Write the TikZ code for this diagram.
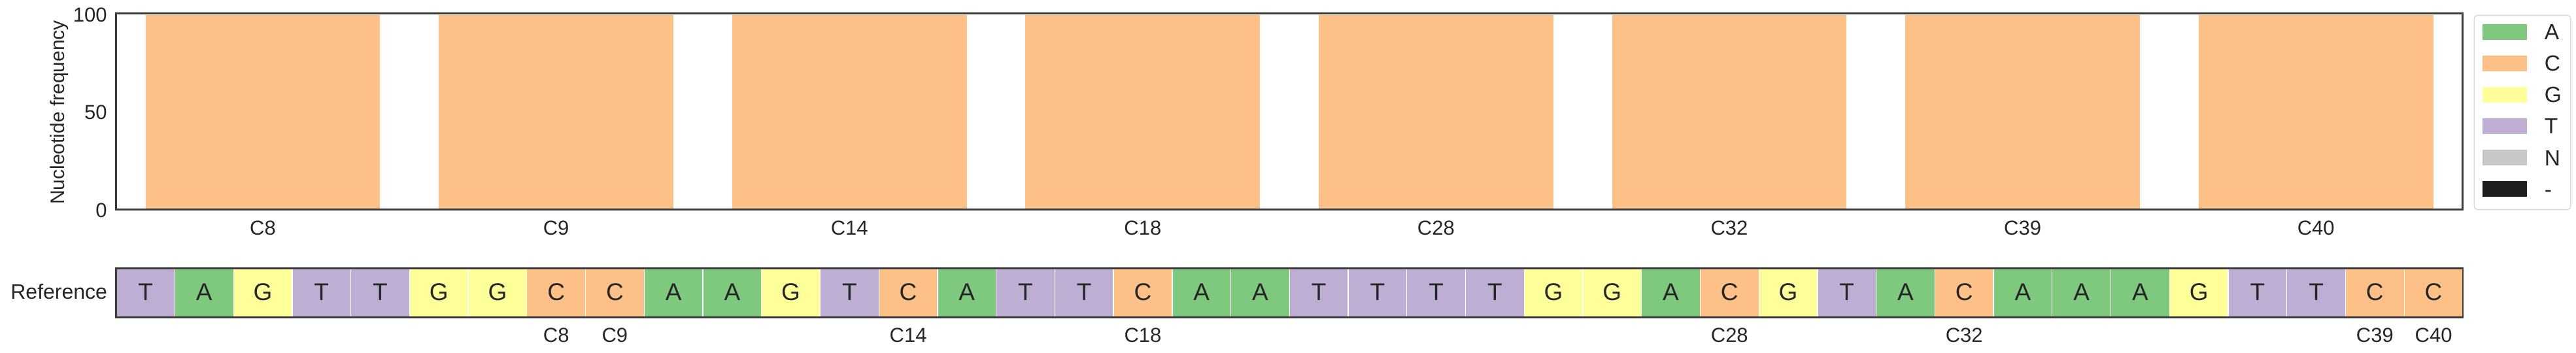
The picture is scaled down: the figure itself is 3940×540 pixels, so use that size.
\documentclass[tikz,border=0pt]{standalone}
\usepackage{fontspec}
\setmainfont{Liberation Sans}
\definecolor{nucA}{HTML}{7FC97F}
\definecolor{nucC}{HTML}{FDC086}
\definecolor{nucG}{HTML}{FFFF99}
\definecolor{nucT}{HTML}{BEAED4}
\definecolor{nucN}{HTML}{C7C7C7}
\definecolor{nucGap}{HTML}{1E1E1E}
\definecolor{ink}{HTML}{262626}
\definecolor{framecol}{HTML}{3A3A3A}
\definecolor{legedge}{HTML}{D9D9D9}
\begin{document}
\begin{tikzpicture}[x=1pt,y=-1pt,
  every node/.style={inner sep=0pt,outer sep=0pt,text=ink},
  ticklab/.style={font=\fontsize{31}{37}\selectfont},
  ylab/.style={font=\fontsize{30}{36}\selectfont},
  reflab/.style={font=\fontsize{32}{38}\selectfont},
  cellletter/.style={font=\fontsize{37}{44}\selectfont},
  leglab/.style={font=\fontsize{33.5}{40}\selectfont},
  axframe/.style={draw=framecol,line width=2.5pt},
  sepline/.style={draw=white,line width=1.3pt},
  legbox/.style={draw=legedge,line width=1.5pt,fill=white,rounded corners=5pt}]
\useasboundingbox (0,0) rectangle (3940,540);
\fill[white] (0,0) rectangle (3940,540);
% ---- bar chart ----
\foreach \lab [count=\i from 0] in {C8,C9,C14,C18,C28,C32,C39,C40} {
  \pgfmathsetmacro\cx{177.7+448.6*(\i+0.5)}
  \fill[nucC] (\cx-179.4,22.7) rectangle (\cx+179.4,320.7);
  \node[ticklab,anchor=base] (bar\i) at (\cx,359.5) {\lab};
}
\draw[axframe] (177.7,20.7) rectangle (3766.5,320.7);
\node[ticklab,anchor=base east] (y100) at (163.5,33.8) {100};
\node[ticklab,anchor=base east] (y50) at (163.5,182.8) {50};
\node[ticklab,anchor=base east] (y0) at (163.5,332.5) {0};
\node[ylab,anchor=base,rotate=90] (ylabel) at (98,172) {Nucleotide frequency};
% ---- reference row ----
\foreach \l [count=\i] in {T,A,G,T,T,G,G,C,C,A,A,G,T,C,A,T,T,C,A,A,T,T,T,T,G,G,A,C,G,T,A,C,A,A,A,G,T,T,C,C} {
  \pgfmathsetmacro\xa{177.7+89.73*(\i-1)}
  \pgfmathsetmacro\xb{\xa+89.73}
  \fill[nuc\l] (\xa,410.7) rectangle (\xb,485.7);
  \node[cellletter,anchor=base] (r\i) at ({(\xa+\xb)/2},459.3) {\l};
}
\foreach \i in {1,...,39} {
  \pgfmathsetmacro\xs{177.7+89.73*\i}
  \draw[sepline] (\xs,412) -- (\xs,484.4);
}
\draw[axframe] (177.7,410.7) rectangle (3767,485.7);
\node[reflab,anchor=base east] (reflabel) at (164,457.7) {Reference};
\foreach \p/\lab in {8/C8,9/C9,14/C14,18/C18,28/C28,32/C32,39/C39,40/C40} {
  \pgfmathsetmacro\cx{177.7+89.73*(\p-0.5)}
  \node[ticklab,anchor=base] (pos\p) at (\cx,523.3) {\lab};
}
% ---- legend ----
\draw[legbox] (3784.3,23.3) rectangle (3931.7,320.7);
\foreach \c/\lab [count=\k from 0] in {nucA/A,nucC/C,nucG/G,nucT/T,nucN/N,nucGap/-} {
  \fill[\c] (3796.7,36.7+48*\k) rectangle (3865.3,61+48*\k);
  \node[leglab,anchor=base west] (leg\k) at (3891.7,61+48*\k) {\lab};
}
\end{tikzpicture}
\end{document}
